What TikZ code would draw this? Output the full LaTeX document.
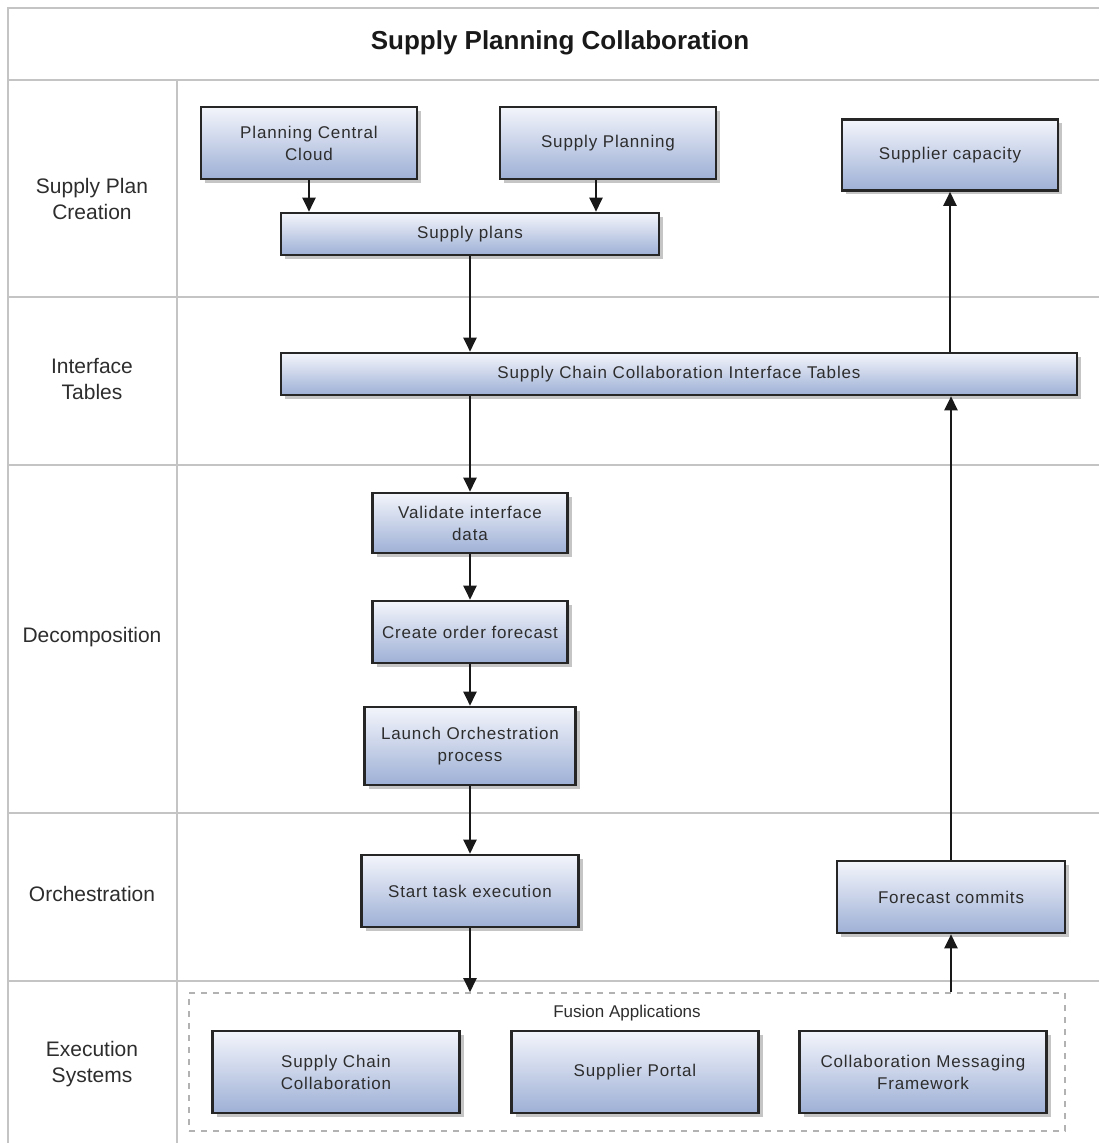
\documentclass[tikz,border=0pt]{standalone}
\usepackage{fontspec}
\setmainfont{Liberation Sans}
\newfontfamily\boxfont[LetterSpace=5]{Liberation Sans}
\usetikzlibrary{positioning,shadows,arrows.meta}
\definecolor{boxtop}{RGB}{243,245,251}
\definecolor{boxbot}{RGB}{158,176,214}
\definecolor{lanegray}{RGB}{196,196,196}
\definecolor{txt}{RGB}{45,45,45}

\begin{document}
\begin{tikzpicture}[x=0.5pt,y=-0.5pt,
  task/.style={draw=black!85, line width=1.3pt, top color=boxtop, bottom color=boxbot,
    drop shadow={shadow xshift=2pt,shadow yshift=-2pt,fill=black!45,opacity=0.5},
    align=center, font=\boxfont\fontsize{8.5}{11}\selectfont, text=txt, inner sep=2pt},
  lane/.style={align=center, font=\fontsize{10.5}{13}\selectfont, text=txt},
  flow/.style={-{Triangle[width=6.5pt,length=7pt]}, line width=1.1pt, black!90},
  sep/.style={lanegray, line width=1pt}]
  \useasboundingbox (0,0) rectangle (1099,1143);

  \draw[sep] (8,1143) -- (8,8) -- (1099,8);
  \foreach \y in {80,297,465,813,981}
    \draw[sep] (8,\y) -- (1099,\y);
  \draw[sep] (177,80) -- (177,1143);

  \node (title) [font=\bfseries\fontsize{13}{15}\selectfont, text=black!90] at (560,43) {Supply Planning Collaboration};
  \node (creation) [lane] at (92,199) {Supply Plan\\Creation};
  \node (tables) [lane] at (92,379) {Interface\\Tables};
  \node (decomp) [lane] at (92,637) {Decomposition};
  \node (orch) [lane] at (92,894) {Orchestration};
  \node (execsys) [lane] at (92,1064) {Execution\\Systems};

  \node (pcc) [task, minimum width=108pt, minimum height=36pt] at (309,143) {Planning Central\\Cloud};
  \node (sp) [task, minimum width=108pt, minimum height=36pt] at (608,143) {Supply Planning};
  \node (cap) [task, minimum width=108pt, minimum height=35.5pt] at (950,155) {Supplier capacity};
  \node (plans) [task, minimum width=189pt, minimum height=21pt] at (470,234) {Supply plans};
  \node (ifc) [task, minimum width=398pt, minimum height=21pt] at (679,374) {Supply Chain Collaboration Interface Tables};
  \node (valid) [task, minimum width=97.5pt, minimum height=30pt] at (470,523) {Validate interface\\data};
  \node (fcst) [task, minimum width=97.5pt, minimum height=31pt] at (470,632) {Create order forecast};
  \node (launch) [task, minimum width=105.5pt, minimum height=39pt] at (470,746) {Launch Orchestration\\process};
  \node (start) [task, minimum width=108.5pt, minimum height=36pt] at (470,891) {Start task execution};
  \node (commits) [task, minimum width=114pt, minimum height=36pt] at (951,897) {Forecast commits};

  \node (fusion) [draw=black!30, dashed, line width=0.8pt, minimum width=438pt, minimum height=69pt] at (627,1062) {};
  \node (fusionlbl) [font=\fontsize{8.5}{11}\selectfont, text=txt, below=3pt of fusion.north] {Fusion Applications};
  \node (scc) [task, minimum width=123.5pt, minimum height=41pt] at (336,1072) {Supply Chain\\Collaboration};
  \node (portal) [task, minimum width=123.5pt, minimum height=41pt] at (635,1072) {Supplier Portal};
  \node (cmf) [task, minimum width=123.5pt, minimum height=41pt] at (923,1072) {Collaboration Messaging\\Framework};

  \draw[flow] (pcc.south) -- (pcc.south |- plans.north);
  \draw[flow] ([xshift=-6pt]sp.south) -- ([xshift=-6pt]sp.south |- plans.north);
  \draw[flow] (plans.south) -- (plans.south |- ifc.north);
  \draw[flow] (plans.south |- ifc.south) -- (valid.north);
  \draw[flow] (valid) -- (fcst);
  \draw[flow] (fcst) -- (launch);
  \draw[flow] (launch) -- (start);
  \draw[flow] (start.south) -- (start.south |- fusion.north);
  \draw[flow] (commits.south |- fusion.north) -- (commits.south);
  \draw[flow] (commits.north) -- (commits.north |- ifc.south);
  \draw[flow] (cap.south |- ifc.north) -- (cap.south);
\end{tikzpicture}
\end{document}
